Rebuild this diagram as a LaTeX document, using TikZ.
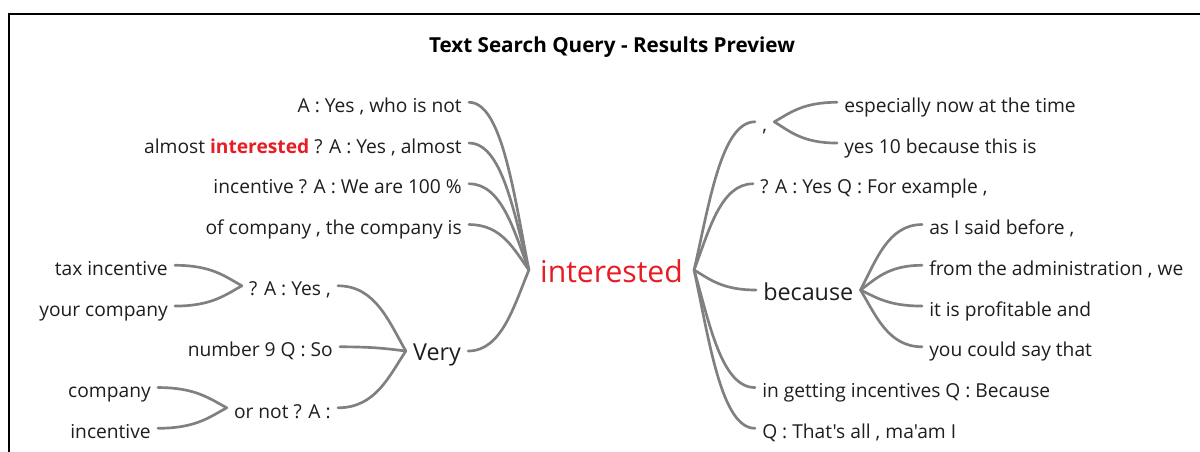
\documentclass[tikz,border=0pt]{standalone}
\usepackage{fontspec}
\setmainfont{Open Sans}[Ligatures=TeXOff]
\usetikzlibrary{calc}
\definecolor{hl}{RGB}{232,28,36}
\definecolor{ln}{RGB}{128,128,128}
\definecolor{tx}{RGB}{30,30,30}
\begin{document}
\begin{tikzpicture}[x=0.75pt,y=-0.75pt,
  leaf/.style={font=\fontsize{14.4}{17}\selectfont, text=tx, inner xsep=5.25pt, inner ysep=0pt, text height=17.3pt, text depth=2pt},
  mid/.style={font=\fontsize{17.5}{20}\selectfont, text=tx, inner xsep=5.25pt, inner ysep=0pt, text height=15.8pt, text depth=2.3pt},
  becstyle/.style={font=\fontsize{17.5}{20}\selectfont, text=tx, inner xsep=5.25pt, inner ysep=0pt, text height=18.8pt, text depth=2.3pt},
  hub/.style={font=\fontsize{22.6}{26}\selectfont, text=hl, inner xsep=8.25pt, inner ysep=0pt, text height=22.7pt, text depth=3.2pt},
  titlestyle/.style={font=\bfseries\fontsize{15.5}{18}\selectfont, text=black, inner sep=0pt},
  frame/.style={draw=black, line width=1.5pt},
  branch/.style={draw=ln, line width=2pt, line cap=round,
    to path={let \p1=(\tikztostart), \p2=(\tikztotarget) in
      .. controls (\x1+0.25*\x2-0.25*\x1, \y1+0.45*\y2-0.45*\y1)
      and (0.45*\x2+0.55*\x1, \y2) .. (\tikztotarget)}}
]
\useasboundingbox (0,0) rectangle (1200,452);
\fill[white] (0,0) rectangle (1200,452);
\draw[frame] (9,470) -- (9,14) -- (1210,14);

\node[titlestyle, anchor=base] (T) at (612,52.5) {Text Search Query - Results Preview};

% hub
\node[hub, anchor=base] (I) at (611.5,283) {interested};

% left column
\node[leaf, anchor=base east] (L1) at (469,112.5) {A : Yes , who is not};
\node[leaf, anchor=base east] (L2) at (469,153.25) {almost {\bfseries\color{hl}interested} ? A : Yes , almost};
\node[leaf, anchor=base east] (L3) at (469,194) {incentive ? A : We are 100 \%};
\node[leaf, anchor=base east] (L4) at (469,234.75) {of company , the company is};

% Very branch
\node[mid, anchor=base] (V) at (437,360) {Very};
\node[leaf, anchor=base east] (V1) at (338,296) {? A : Yes ,};
\node[leaf, anchor=base east] (V2) at (340,357) {number 9 Q : So};
\node[leaf, anchor=base east] (V3) at (338,418) {or not ? A :};
\node[leaf, anchor=base east] (V1a) at (175,275.5) {tax incentive};
\node[leaf, anchor=base east] (V1b) at (175,316.25) {your company};
\node[leaf, anchor=base east] (V3a) at (158,397.75) {company};
\node[leaf, anchor=base east] (V3b) at (158,438.5) {incentive};

% right side
\node[leaf, anchor=base west] (R1) at (755,132) {,};
\node[leaf, anchor=base west] (R1a) at (837,112.5) {especially now at the time};
\node[leaf, anchor=base west] (R1b) at (837,153.25) {yes 10 because this is};
\node[leaf, anchor=base west] (R2) at (753,194) {? A : Yes Q : For example ,};
\node[becstyle, anchor=base west] (B) at (756,301) {because};
\node[leaf, anchor=base west] (B1) at (922,234.75) {as I said before ,};
\node[leaf, anchor=base west] (B2) at (922,275.5) {from the administration , we};
\node[leaf, anchor=base west] (B3) at (922,316.25) {it is profitable and};
\node[leaf, anchor=base west] (B4) at (922,357) {you could say that};
\node[leaf, anchor=base west] (R4) at (755,397.75) {in getting incentives Q : Because};
\node[leaf, anchor=base west] (R5) at (755,438.5) {Q : That's all , ma'am I};

% connectors
\draw[branch] (I.west) to (L1.east);
\draw[branch] (I.west) to (L2.east);
\draw[branch] (I.west) to (L3.east);
\draw[branch] (I.west) to (L4.east);
\draw[branch] (I.west) to (V.east);
\draw[branch] (V.west) to (V1.east);
\draw[branch] (V.west) to (V2.east);
\draw[branch] (V.west) to (V3.east);
\draw[branch] (V1.west) to (V1a.east);
\draw[branch] (V1.west) to (V1b.east);
\draw[branch] (V3.west) to (V3a.east);
\draw[branch] (V3.west) to (V3b.east);

\draw[branch] (I.east) to (R1.west);
\draw[branch] (R1.east) to (R1a.west);
\draw[branch] (R1.east) to (R1b.west);
\draw[branch] (I.east) to (R2.west);
\draw[branch] (I.east) to (B.west);
\draw[branch] (B.east) to (B1.west);
\draw[branch] (B.east) to (B2.west);
\draw[branch] (B.east) to (B3.west);
\draw[branch] (B.east) to (B4.west);
\draw[branch] (I.east) to (R4.west);
\draw[branch] (I.east) to (R5.west);
\end{tikzpicture}
\end{document}
